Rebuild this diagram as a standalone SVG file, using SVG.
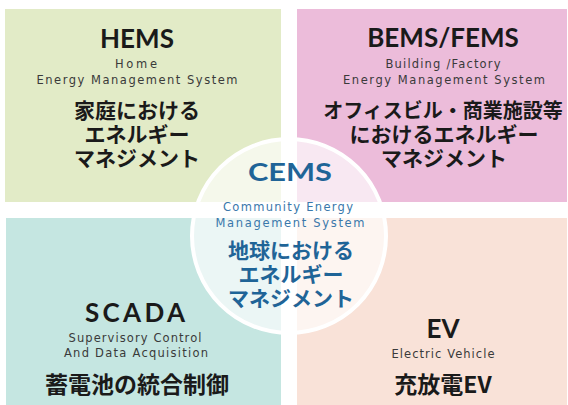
<svg xmlns="http://www.w3.org/2000/svg" width="568" height="405" viewBox="0 0 568 405">
<style>
.title{font-family:"Lato","Liberation Sans",sans-serif;font-weight:700;font-size:26px;fill:#1a1a1a;text-anchor:middle}
.sub{font-family:"DejaVu Sans","Liberation Sans",sans-serif;font-size:11.5px;fill:#3a3a3a;text-anchor:middle}
.jp{font-family:"Noto Sans CJK JP",sans-serif;font-weight:700;font-size:21px;fill:#1a1a1a;text-anchor:middle}
.ctitle{font-family:"Lato","Liberation Sans",sans-serif;font-weight:700;font-size:24px;fill:#1f6497;text-anchor:middle}
.csub{font-family:"DejaVu Sans","Liberation Sans",sans-serif;font-size:11.5px;fill:#3a78ab;text-anchor:middle}
.cjp{font-family:"Noto Sans CJK JP",sans-serif;font-weight:700;font-size:21px;fill:#1f6497;text-anchor:middle}
</style>
<rect width="568" height="405" fill="#ffffff"/>
<g id="hems-bg"><rect x="5" y="9" width="276" height="193" fill="#e2ebc7"/></g>
<g id="bems-bg"><rect x="297" y="9" width="270" height="193" fill="#ecbcda"/></g>
<g id="scada-bg"><rect x="6" y="218" width="275" height="187" fill="#c5e6e1"/></g>
<g id="ev-bg"><rect x="297" y="218" width="270" height="187" fill="#f9e2d8"/></g>
<g id="connectors"></g>
<g id="cems">
<circle cx="289" cy="236" r="97" fill="#ffffff" fill-opacity="0.65" stroke="#ffffff" stroke-width="4"/>
<text class="ctitle" x="290" y="181" textLength="84" lengthAdjust="spacingAndGlyphs">CEMS</text>
<text class="csub"><tspan x="288" y="211" textLength="130" lengthAdjust="spacing">Community Energy</tspan><tspan x="290" y="227" textLength="149" lengthAdjust="spacing">Management System</tspan></text>
<text class="cjp"><tspan x="291" y="258">地球における</tspan><tspan x="291" y="282">エネルギー</tspan><tspan x="291" y="306">マネジメント</tspan></text>
</g>
<g id="hems">
<text class="title" x="137" y="48">HEMS</text>
<text class="sub"><tspan x="136" y="68" textLength="42" lengthAdjust="spacing">Home</tspan><tspan x="137" y="84" textLength="201" lengthAdjust="spacing">Energy Management System</tspan></text>
<text class="jp"><tspan x="137" y="118">家庭における</tspan><tspan x="137" y="142">エネルギー</tspan><tspan x="137" y="166">マネジメント</tspan></text>
</g>
<g id="bems">
<text class="title" x="443" y="47">BEMS/FEMS</text>
<text class="sub"><tspan x="443" y="68" textLength="115" lengthAdjust="spacing">Building /Factory</tspan><tspan x="444" y="84" textLength="202" lengthAdjust="spacing">Energy Management System</tspan></text>
<text class="jp"><tspan x="443" y="118" style="font-size:20px">オフィスビル・商業施設等</tspan><tspan x="444" y="142">におけるエネルギー</tspan><tspan x="444" y="166">マネジメント</tspan></text>
</g>
<g id="scada">
<text class="title" x="135" y="322" textLength="100" lengthAdjust="spacing">SCADA</text>
<text class="sub"><tspan x="135" y="342" textLength="133" lengthAdjust="spacing">Supervisory Control</tspan><tspan x="136" y="357" textLength="144" lengthAdjust="spacing">And Data Acquisition</tspan></text>
<text class="jp" x="137" y="393" style="font-size:23px">蓄電池の統合制御</text>
</g>
<g id="ev">
<text class="title" x="443" y="338">EV</text>
<text class="sub" x="443" y="358" textLength="103" lengthAdjust="spacing">Electric Vehicle</text>
<text class="jp" x="443" y="393" style="font-size:23px">充放電EV</text>
</g>
</svg>
